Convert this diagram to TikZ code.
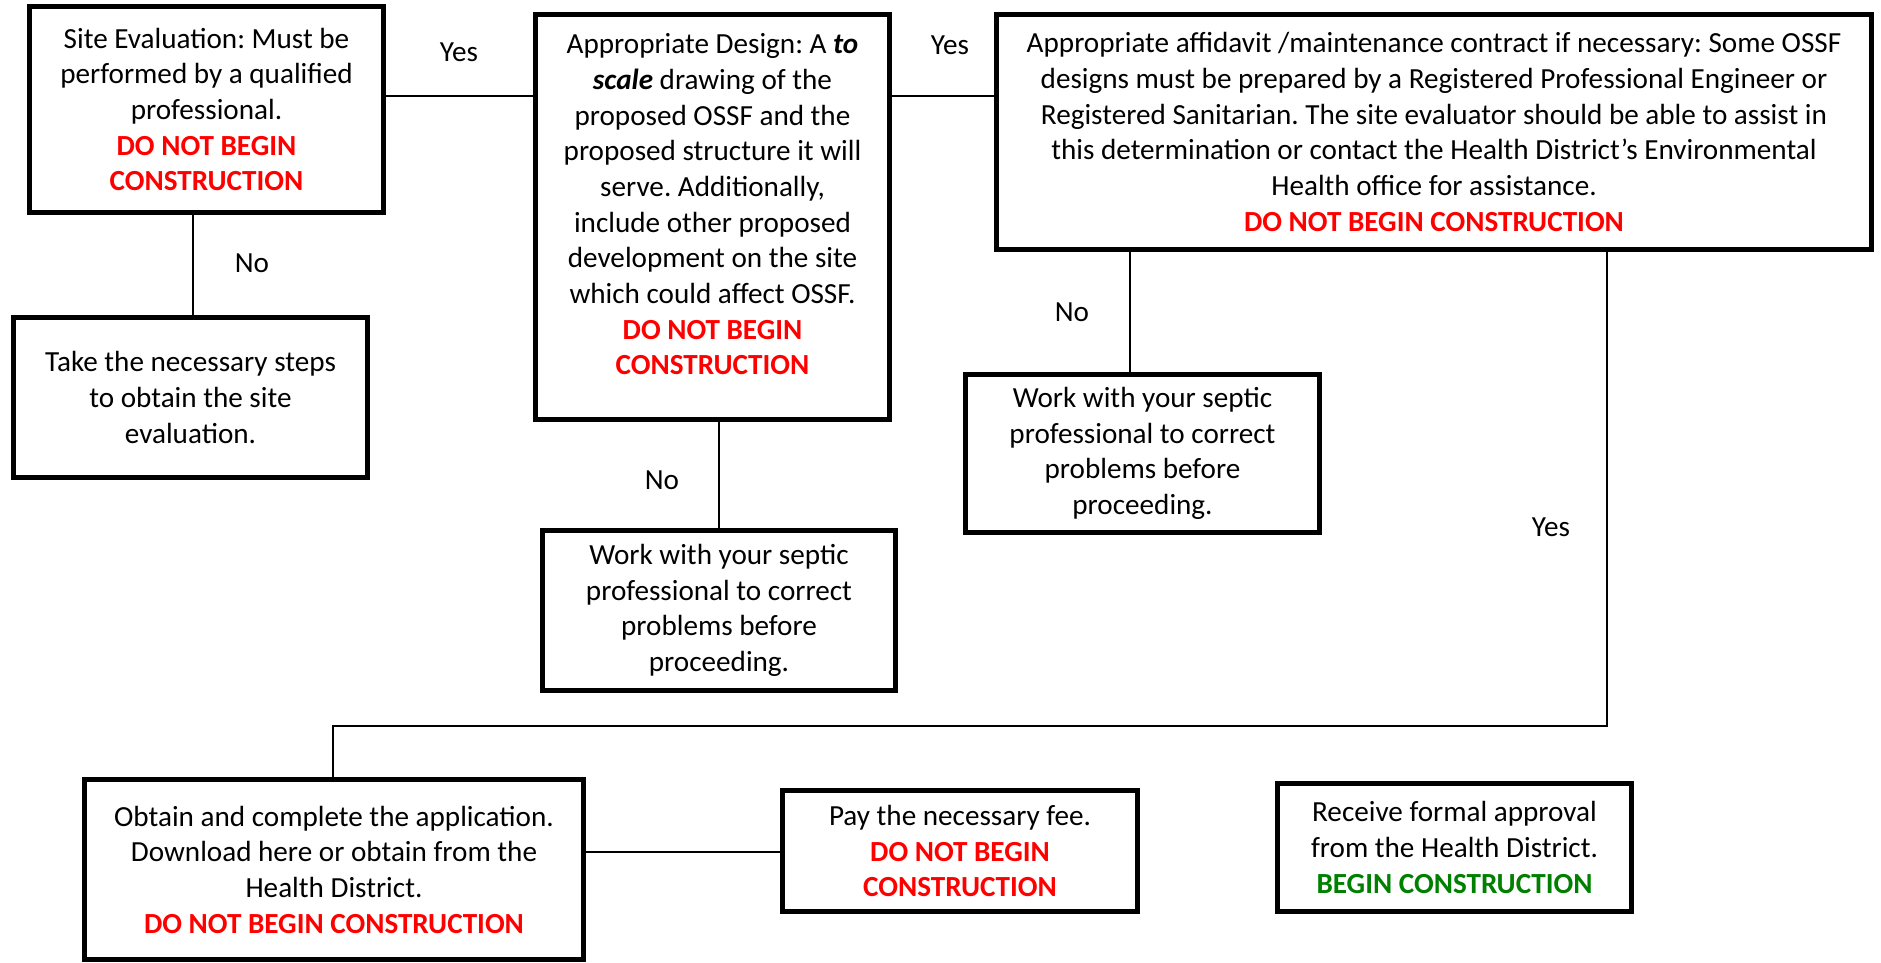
\documentclass[tikz,border=0pt]{standalone}
\usepackage{fontspec}
\setmainfont{Carlito}
\usetikzlibrary{positioning}
\frenchspacing
\newcommand{\stopnote}[1]{\textcolor{red}{\textbf{#1}}}
\newcommand{\gonote}[1]{\textcolor{green!50!black}{\textbf{#1}}}
\tikzset{
  box/.style={draw, line width=2.8pt, align=center, inner sep=0pt},
  answer/.style={inner sep=0pt},
}

\begin{document}
\begin{tikzpicture}[x=0.02cm, y=-0.02cm, line width=0.8pt,
    every node/.style={font=\fontsize{16.6}{20.3}\selectfont}]
  \useasboundingbox (0,0) rectangle (1881,963);

  %% first row
  \node[box, minimum width=7.08cm, minimum height=4.12cm] (site) at (206.5,109.5)
    {Site Evaluation: Must be\\performed by a qualified\\professional.\\
     \stopnote{DO NOT BEGIN}\\\stopnote{CONSTRUCTION}};
  \node[box, minimum width=7.08cm, minimum height=3.2cm] (steps) at (190.5,397.5)
    {Take the necessary steps\\to obtain the site\\evaluation.};

  \node[box, minimum width=7.08cm, minimum height=8.1cm] (design) at (712.5,217)
    {Appropriate Design: A \textbf{\textit{to}}\\\textbf{\textit{scale}} drawing of the\\
     proposed OSSF and the\\proposed structure it will\\serve. Additionally,\\
     include other proposed\\development on the site\\which could affect OSSF.\\
     \stopnote{DO NOT BEGIN}\\\stopnote{CONSTRUCTION}\\[-6pt]\mbox{}};
  \node[box, minimum width=7.06cm, minimum height=3.2cm] (fixB) at (719,610.5)
    {Work with your septic\\professional to correct\\problems before\\proceeding.};

  \node[box, minimum width=17.5cm, minimum height=4.7cm] (affid) at (1434,132)
    {Appropriate affidavit /maintenance contract if necessary: Some OSSF\\
     designs must be prepared by a Registered Professional Engineer or\\
     Registered Sanitarian. The site evaluator should be able to assist in\\
     this determination or contact the Health District’s Environmental\\
     Health office for assistance.\\\stopnote{DO NOT BEGIN CONSTRUCTION}};
  \node[box, minimum width=7.08cm, minimum height=3.16cm] (fixA) at (1142.5,453.5)
    {Work with your septic\\professional to correct\\problems before\\proceeding.};

  %% last row
  \node[box, minimum width=9.98cm, minimum height=3.6cm] (app) at (334,869.5)
    {Obtain and complete the application.\\Download here or obtain from the\\
     Health District.\\\stopnote{DO NOT BEGIN CONSTRUCTION}};
  \node[box, minimum width=7.1cm, minimum height=2.42cm] (fee) at (960,851)
    {Pay the necessary fee.\\\stopnote{DO NOT BEGIN}\\\stopnote{CONSTRUCTION}};
  \node[box, minimum width=7.08cm, minimum height=2.56cm] (approve) at (1454.5,847.5)
    {Receive formal approval\\from the Health District.\\\gonote{BEGIN CONSTRUCTION}};

  %% connectors
  \draw (site.east |- 0,96) -- (design.west |- 0,96);
  \draw (design.east |- 0,96) -- (affid.west |- 0,96);
  \draw (site.south -| 193,0) -- (steps.north -| 193,0);
  \draw (design.south -| 719,0) -- (fixB.north);
  \draw (affid.south -| 1130,0) -- (fixA.north -| 1130,0);
  \coordinate (bend) at (333,726);
  \draw (affid.south -| 1607,0) |- (bend) -- (app.north -| bend);
  \draw (app.east |- 0,852) -- (fee.west |- 0,852);

  %% answers
  \node[answer] (yesA) at (459,52) {Yes};
  \node[answer] (yesB) at (950,45) {Yes};
  \node[answer] (noA) at (252,263) {No};
  \node[answer] (noB) at (662,480) {No};
  \node[answer] (noC) at (1072,312) {No};
  \node[answer] (yesC) at (1551,527) {Yes};
\end{tikzpicture}
\end{document}
